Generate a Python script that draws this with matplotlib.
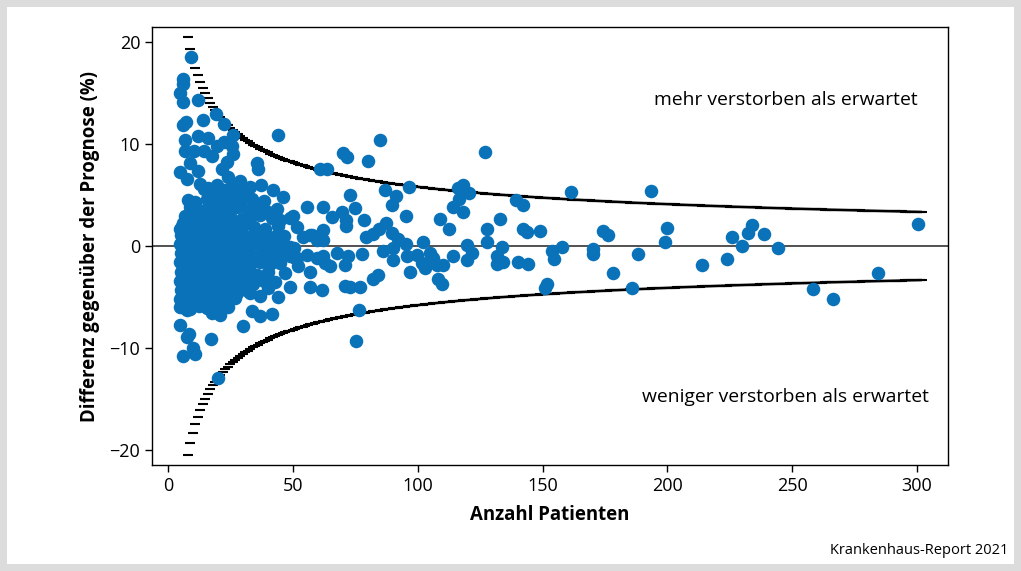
import matplotlib
matplotlib.use("Agg")
import matplotlib.pyplot as plt
from matplotlib.patches import Rectangle
import numpy as np

# ---------------- data ----------------
# dense cluster of small hospitals
blob_n = [14.5, 18.5, 23.0, 27.5, 31.0,
          11.0, 15.5, 19.0, 21.5, 25.5, 29.0, 33.5, 38.5,
          9.0, 12.5, 16.0, 20.0, 24.0, 28.0, 32.0, 35.5, 40.0, 43.5,
          7.0, 10.5, 13.5, 17.0, 21.0, 25.0, 29.5, 33.0, 37.0, 41.5, 45.0,
          5.5, 8.5, 11.5, 14.5, 18.0, 22.0, 26.0, 30.0, 34.5, 39.0, 44.0,
          5.2, 7.5, 10.0, 13.0, 16.0, 19.5, 23.0, 27.0, 31.0, 35.0, 38.5, 42.5, 46.5,
          5.0, 6.5, 9.0, 12.0, 15.0, 18.0, 21.0, 24.5, 28.0, 32.0, 36.0, 40.5, 44.5, 50.5,
          5.3, 7.5, 10.5, 13.5, 16.5, 20.0, 23.0, 26.5, 30.5, 34.0, 38.0, 42.0, 46.0,
          5.0, 6.5, 9.0, 12.0, 15.0, 18.5, 22.0, 25.0, 29.0, 33.0, 37.0, 41.0, 45.0, 52.0,
          5.4, 7.5, 10.5, 13.5, 17.0, 20.5, 24.0, 27.5, 31.5, 35.5, 40.0, 47.0,
          5.0, 6.5, 9.0, 12.0, 15.5, 19.0, 22.5, 26.0, 30.0, 34.0, 38.5, 43.0,
          5.3, 8.0, 11.0, 14.0, 17.5, 21.0, 24.5, 28.5, 32.0, 40.0,
          5.0, 7.0, 10.0, 13.0, 16.5, 20.0, 23.5, 27.0,
          5.5, 9.0, 12.5, 15.5, 19.0, 22.5]
blob_y = [5.6, 5.2, 5.5, 5.1, 5.4,
          4.3, 4.6, 4.4, 4.7, 4.5, 4.2, 4.6, 4.4,
          3.8, 3.5, 3.7, 3.4, 3.6, 3.9, 3.5, 3.7, 3.3, 3.6,
          2.9, 2.6, 2.8, 3.0, 2.7, 2.9, 2.6, 2.8, 3.0, 2.7, 2.5,
          2.0, 1.8, 2.1, 1.9, 1.7, 2.0, 1.8, 2.1, 1.9, 1.7, 2.0,
          1.1, 0.9, 1.2, 1.0, 0.8, 1.1, 0.9, 1.2, 1.0, 0.8, 1.1, 0.9, 1.0,
          0.2, 0.0, 0.3, 0.1, -0.1, 0.2, 0.0, 0.3, 0.1, -0.1, 0.2, 0.0, 0.1, -0.2,
          -0.7, -0.9, -0.6, -0.8, -1.0, -0.7, -0.9, -0.6, -0.8, -1.0, -0.7, -0.9, -0.8,
          -1.6, -1.8, -1.5, -1.7, -1.9, -1.6, -1.8, -1.5, -1.7, -1.9, -1.6, -1.8, -1.7, -2.0,
          -2.5, -2.7, -2.4, -2.6, -2.8, -2.5, -2.7, -2.4, -2.6, -2.8, -2.5, -2.6,
          -3.4, -3.6, -3.3, -3.5, -3.7, -3.4, -3.6, -3.3, -3.5, -3.7, -3.4, -3.5,
          -4.3, -4.5, -4.2, -4.4, -4.6, -4.3, -4.5, -4.2, -4.4, -4.1,
          -5.2, -5.4, -5.1, -5.3, -5.5, -5.2, -5.4, -5.1,
          -6.0, -6.2, -5.9, -6.1, -6.3, -6.0]

# core of the cluster (fills the gaps between the rows above)
core_n = [6.0, 9.5, 12.5, 16.0, 19.5, 23.5, 27.5,
          6.5, 9.0, 12.0, 15.0, 17.5, 21.0, 25.0, 29.0,
          6.0, 8.0, 11.0, 14.0, 17.0, 20.0, 22.5, 26.0, 30.0,
          6.0, 8.5, 11.5, 14.5, 18.0, 21.5, 25.0, 28.5,
          6.2, 8.0, 11.0, 14.0, 17.0, 20.5, 24.0, 27.5,
          6.0, 9.0, 11.5, 14.5, 18.5, 22.0, 26.0, 29.5,
          6.0, 8.5, 11.0, 14.0, 17.5, 21.0, 24.5, 28.0,
          6.5, 9.5, 12.5, 16.0, 19.5, 23.0,
          6.0, 8.5, 11.5, 15.0, 18.5, 22.0, 25.5]
core_y = [2.3, 2.4, 2.2, 2.3, 2.4, 2.2, 2.3,
          1.4, 1.5, 1.3, 1.4, 1.5, 1.3, 1.4, 1.5,
          0.55, 0.6, 0.5, 0.55, 0.6, 0.5, 0.55, 0.6, 0.5,
          -0.35, -0.3, -0.4, -0.35, -0.3, -0.4, -0.35, -0.3,
          -1.25, -1.2, -1.3, -1.25, -1.2, -1.3, -1.25, -1.2,
          -2.15, -2.1, -2.2, -2.15, -2.1, -2.2, -2.15, -2.1,
          -3.05, -3.0, -3.1, -3.05, -3.0, -3.1, -3.05, -3.0,
          -3.95, -3.9, -4.0, -3.95, -3.9, -4.0,
          -4.85, -4.8, -4.9, -4.85, -4.8, -4.9, -4.85]

# scattered hospitals with few patients (upper part)
upper_n = [9.1, 5.9, 5.9, 4.8, 6.1, 11.9, 19.2, 13.9, 5.9, 7.2, 22.6, 25.9, 44.2,
           12.1, 16.1, 6.8, 19.5, 22.6, 25.5, 25.9, 6.8, 10.5, 14.5, 17.5, 8.8,
           23.6, 35.8, 36.2, 4.8, 7.5, 11.9, 21.5, 24.2, 28.8, 26.2, 12.8, 16.1,
           19.5, 22.1, 32.8, 37.2, 30.8, 23.1, 27.5, 42.2, 46.2, 55.5, 62.2, 60.9,
           7.9, 5.5, 4.8, 50.2]
upper_y = [18.5, 16.4, 15.9, 15.0, 14.1, 14.3, 12.9, 12.4, 11.9, 12.2, 12.0, 10.9, 10.9,
           10.8, 10.6, 10.4, 9.8, 10.2, 9.8, 9.0, 9.3, 9.3, 9.3, 8.8, 8.1,
           8.2, 8.1, 7.5, 7.3, 6.6, 7.4, 7.5, 6.8, 6.4, 6.0, 6.1, 5.7,
           6.0, 5.3, 5.8, 6.0, 5.0, 4.0, 3.8, 5.5, 4.8, 3.8, 3.8, 7.5,
           4.5, 1.9, 1.7, 2.9]

# scattered hospitals with few patients (lower part)
lower_n = [48.9, 57.5, 62.2, 55.5, 56.9, 48.9, 56.9, 61.5, 44.2, 36.8, 33.5, 36.8,
           41.5, 30.2, 17.2, 4.8, 7.5, 8.5, 10.1, 6.1, 20.1, 10.8, 47.5, 50.9,
           4.8, 7.5, 13.5, 17.5, 20.8, 24.2, 27.5, 32.8]
lower_y = [2.7, 1.1, 1.6, -0.9, -2.5, -4.0, -4.0, -4.3, -5.0, -4.9, -6.4, -6.9,
           -6.7, -7.8, -9.1, -7.7, -8.9, -8.6, -10.0, -10.8, -12.9, -10.6, -0.1, -1.2,
           -6.0, -6.3, -5.6, -6.6, -6.8, -6.0, -4.6, -4.6]

# medium sized hospitals
mid_n = [85.1, 70.2, 71.6, 80.2, 63.6, 127.0, 86.9, 91.5, 89.6, 96.6, 72.9, 116.3,
         118.0, 120.7, 116.7, 114.2, 118.0, 65.8, 69.5, 71.3, 71.2, 74.9, 78.5,
         95.5, 108.9, 112.7, 87.2, 84.6, 82.2, 79.3, 51.5, 54.2, 56.9, 59.6, 62.2,
         89.6, 92.2, 95.3, 102.2, 119.6, 127.6, 127.6, 48.9,
         48.9, 51.5, 59.6, 62.2, 62.9, 64.9, 67.6, 70.9, 72.2, 77.6, 86.2, 90.2,
         90.2, 95.6, 96.9, 99.6, 101.6, 102.9, 104.9, 106.3, 107.6, 110.3, 114.3,
         119.6, 121.6, 70.9, 72.9, 76.9, 82.0, 84.2, 108.3, 109.6, 76.6, 75.2]
mid_y = [10.4, 9.1, 8.7, 8.3, 7.5, 9.2, 5.5, 4.9, 4.0, 5.8, 5.0, 5.7,
         6.0, 5.2, 4.6, 3.8, 3.3, 2.8, 3.3, 2.5, 2.0, 3.7, 2.5,
         2.9, 2.6, 1.7, 2.3, 1.7, 1.2, 0.85, 1.9, 0.9, 1.1, 0.6, 0.6,
         1.3, 0.7, 0.2, 0.4, 0.1, 0.4, 1.7, -0.1,
         -1.0, -1.2, -1.2, -1.0, -1.7, -2.0, -0.7, -1.9, -1.0, -0.8, -0.5, -0.2,
         -1.4, -1.0, -2.5, -0.9, -1.7, -2.2, -0.7, -1.2, -1.9, -1.9, -1.0,
         -1.4, -0.7, -3.9, -4.0, -4.0, -3.2, -2.8, -3.2, -3.7, -6.3, -9.3]

# large hospitals
large_n = [139.4, 142.1, 161.4, 193.4, 133.0, 142.1, 143.6, 149.0, 174.1, 176.4,
           199.7, 199.2, 133.6, 154.0, 154.7, 157.7, 170.1, 170.4, 188.3, 131.6,
           131.6, 134.0, 140.3, 144.0, 178.1, 213.7, 223.7, 151.6, 151.0, 185.7,
           226.0, 229.7, 232.2, 234.0, 238.8, 244.2, 258.2, 266.4, 284.2, 300.5]
large_y = [4.5, 4.0, 5.3, 5.4, 2.6, 1.7, 1.4, 1.5, 1.5, 1.1,
           1.8, 0.4, -0.1, -0.5, -1.3, -0.1, -0.3, -0.8, -0.8, -1.0,
           -1.8, -1.6, -1.6, -1.8, -2.6, -1.9, -1.3, -3.7, -4.1, -4.1,
           0.9, 0.0, 1.3, 2.1, 1.2, -0.2, -4.2, -5.2, -2.6, 2.2]

# funnel (control limits ~ k / sqrt(n))
funnel_k = 58.0
funnel_n_min, funnel_n_max = 8, 302
funnel_smooth_from = 35

xticks = [0, 50, 100, 150, 200, 250, 300]
yticks = [-20, -10, 0, 10, 20]

# ---------------- figure ----------------
W, H = 1021, 571
fig = plt.figure(figsize=(W / 100, H / 100), dpi=100)
fig.patch.set_facecolor("#dcdcdc")
b = 7
fig.patches.append(Rectangle((b / W, b / H), 1 - 2 * b / W, 1 - 2 * b / H,
                             transform=fig.transFigure, facecolor="white",
                             edgecolor="none", zorder=-10))

ax = fig.add_axes([152 / W, (H - 465) / H, 796 / W, 438 / H])
ax.set_xlim(-6.4, 312.4)
ax.set_ylim(-21.47, 21.47)

font = "Open Sans"
blue = "#0a72b8"

ax.axhline(0, color="#222222", lw=1.1, zorder=1)

fn = np.arange(funnel_n_min, funnel_n_max + 1)
lim = funnel_k / np.sqrt(fn)
for sgn in (1, -1):
    ax.plot(fn, sgn * lim, ls="none", marker="_", ms=6.5, mew=1.5,
            color="black", zorder=2)
    m = fn >= funnel_smooth_from
    ax.plot(fn[m], sgn * lim[m], ls="-", lw=1.7, color="black", zorder=2,
            solid_capstyle="butt")

for xs, ys in [(blob_n, blob_y), (core_n, core_y), (upper_n, upper_y),
               (lower_n, lower_y), (mid_n, mid_y), (large_n, large_y)]:
    ax.scatter(xs, ys, s=95, color=blue, linewidths=0, zorder=3)

ax.set_xticks(xticks)
ax.set_yticks(yticks)
ax.set_yticklabels(["\u221220", "\u221210", "0", "10", "20"])
ax.tick_params(axis="both", direction="out", length=5, width=1, colors="black",
               labelsize=13)
for lbl in ax.get_xticklabels() + ax.get_yticklabels():
    lbl.set_fontfamily(font)
for sp in ax.spines.values():
    sp.set_linewidth(1.0)
    sp.set_color("black")

ax.set_xlabel("Anzahl Patienten", fontfamily=font, fontweight="bold",
              fontsize=13.4, labelpad=7)
ax.set_ylabel("Differenz gegenüber der Prognose (%)", fontfamily=font,
              fontweight="bold", fontsize=13.4, labelpad=7)

ax.text(247.5, 14.3, "mehr verstorben als erwartet", ha="center", va="center",
        fontfamily=font, fontsize=13.9)
ax.text(247.5, -14.8, "weniger verstorben als erwartet", ha="center", va="center",
        fontfamily=font, fontsize=13.9)

fig.text(1008 / W, 1 - 551 / H, "Krankenhaus-Report 2021", ha="right",
         va="center", fontfamily=font, fontsize=10.5)

fig.savefig("out.png", dpi=100, facecolor=fig.get_facecolor())
